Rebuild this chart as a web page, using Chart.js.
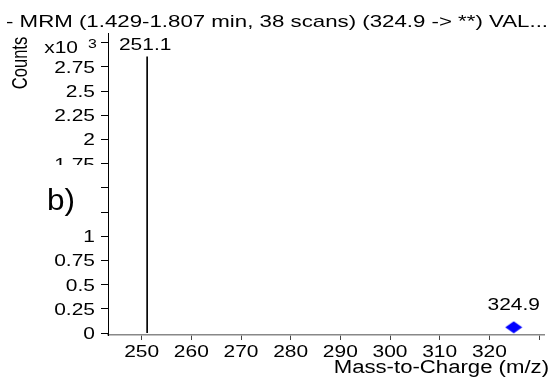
<!DOCTYPE html>
<html>
<head>
<meta charset="utf-8">
<script src="https://cdn.jsdelivr.net/npm/chart.js@4.4.0/dist/chart.umd.min.js"></script>
<style>
  html, body { margin: 0; padding: 0; background: #fff; overflow: hidden; }
  canvas { display: block; }
</style>
</head>
<body>
<canvas id="spectrum" width="552" height="381"></canvas>
<script>
// data (counts are raw, axis shows x10^3)
const peakMz = [251.1];
const peakCounts = [2855];
const precursorMz = [324.9];
const precursorCounts = [60];

const xTickValues = [250, 260, 270, 280, 290, 300, 310, 320, 330];
const xTickLabels = ["250", "260", "270", "280", "290", "300", "310", "320", ""];
const yTickValues = [0, 0.25, 0.5, 0.75, 1, 1.25, 1.5, 1.75, 2, 2.25, 2.5, 2.75, 3];
const yTickLabels = ["0", "0.25", "0.5", "0.75", "1", "1.25", "1.5", "1.75", "2", "2.25", "2.5", "2.75", ""];

const titleText = "- MRM (1.429-1.807 min, 38 scans) (324.9 -> **) VAL...";
const xTitle = "Mass-to-Charge (m/z)";
const yTitle = "Counts";

const FONT = '"Liberation Sans", Arial, sans-serif';
const SX = 1.27; // the picture's text is stretched sideways

function drawText(ctx, text, x, y, size, align, sx) {
  ctx.save();
  ctx.font = size + "px " + FONT;
  const w = ctx.measureText(text).width * sx;
  let left = x;
  if (align === "center") left = x - w / 2;
  else if (align === "right") left = x - w;
  ctx.translate(left, y);
  ctx.scale(sx, 1);
  ctx.textAlign = "left";
  ctx.textBaseline = "alphabetic";
  ctx.fillStyle = "#000";
  ctx.fillText(text, 0, 0);
  ctx.restore();
}

// blue diamond marker for the precursor
const diamond = document.createElement("canvas");
diamond.width = 18;
diamond.height = 13;
const dctx = diamond.getContext("2d");
dctx.fillStyle = "#0000ff";
dctx.beginPath();
dctx.moveTo(9, 0.5);
dctx.lineTo(17.5, 6.5);
dctx.lineTo(9, 12.5);
dctx.lineTo(0.5, 6.5);
dctx.closePath();
dctx.fill();

const textPlugin = {
  id: "spectrumText",
  afterDraw(chart) {
    const ctx = chart.ctx;
    const xs = chart.scales.x;
    const ys = chart.scales.y;

    // title
    ctx.save();
    ctx.font = "17px " + FONT;
    const tw = ctx.measureText(titleText).width;
    ctx.restore();
    drawText(ctx, titleText, 6, 27, 17, "left", 542 / tw);

    // x tick labels
    xTickValues.forEach((v, i) => {
      drawText(ctx, xTickLabels[i], xs.getPixelForValue(v), 357, 16.5, "center", SX);
    });
    // y tick labels
    yTickValues.forEach((v, i) => {
      drawText(ctx, yTickLabels[i], 95, ys.getPixelForValue(v) + 6, 16.5, "right", SX);
    });

    // exponent at the top tick
    const y3 = ys.getPixelForValue(3);
    drawText(ctx, "x10", 78, y3 + 10, 16.5, "right", SX);
    drawText(ctx, "3", 88, y3 + 5, 12.5, "left", SX);

    // y title
    ctx.save();
    ctx.translate(26.5, 63);
    ctx.rotate(-Math.PI / 2);
    ctx.scale(1, 1.3);
    ctx.font = "16.5px " + FONT;
    ctx.textAlign = "center";
    ctx.fillStyle = "#000";
    ctx.fillText(yTitle, 0, 0);
    ctx.restore();

    // x title
    drawText(ctx, xTitle, 549, 373, 18, "right", 1.23);

    // panel label on a white patch
    ctx.save();
    ctx.fillStyle = "#fff";
    ctx.fillRect(0, 165, 101, 63);
    ctx.restore();
    drawText(ctx, "b)", 47, 210, 30, "left", 1.05);

    // peak labels
    chart.getDatasetMeta(0).data.forEach((bar, i) => {
      drawText(ctx, peakMz[i].toFixed(1), bar.x - 2, bar.y - 7, 16.5, "center", SX);
    });
    chart.getDatasetMeta(1).data.forEach((pt, i) => {
      drawText(ctx, precursorMz[i].toFixed(1), pt.x, pt.y - 17, 16.5, "center", SX);
    });
  }
};

new Chart(document.getElementById("spectrum"), {
  type: "bar",
  data: {
    datasets: [
      {
        type: "bar",
        data: peakMz.map((m, i) => ({ x: m, y: peakCounts[i] / 1000 })),
        backgroundColor: "#000",
        borderWidth: 0,
        barThickness: 1
      },
      {
        type: "scatter",
        data: precursorMz.map((m, i) => ({ x: m, y: precursorCounts[i] / 1000 })),
        pointStyle: diamond,
        pointRadius: 7
      }
    ]
  },
  options: {
    responsive: false,
    animation: false,
    events: [],
    layout: { padding: { top: 33, right: 4, left: 0, bottom: 0 } },
    plugins: { legend: { display: false }, tooltip: { enabled: false } },
    scales: {
      x: {
        type: "linear",
        offset: false,
        min: 243.22,
        max: 331,
        afterBuildTicks: s => { s.ticks = xTickValues.map(v => ({ value: v })); },
        afterFit: s => { s.height = 46; },
        ticks: { display: false },
        grid: { offset: false, drawOnChartArea: false, tickLength: 5, color: "#444", tickColor: "#444" },
        border: { color: "#888", width: 1.5 }
      },
      y: {
        min: -0.02,
        max: 3.1,
        afterBuildTicks: s => { s.ticks = yTickValues.map(v => ({ value: v })); },
        afterFit: s => { s.width = 108; },
        ticks: { display: false },
        grid: { drawOnChartArea: false, tickLength: 7, color: "#000", tickColor: "#000" },
        border: { color: "#000", width: 1 }
      }
    }
  },
  plugins: [textPlugin]
});
</script>
</body>
</html>
